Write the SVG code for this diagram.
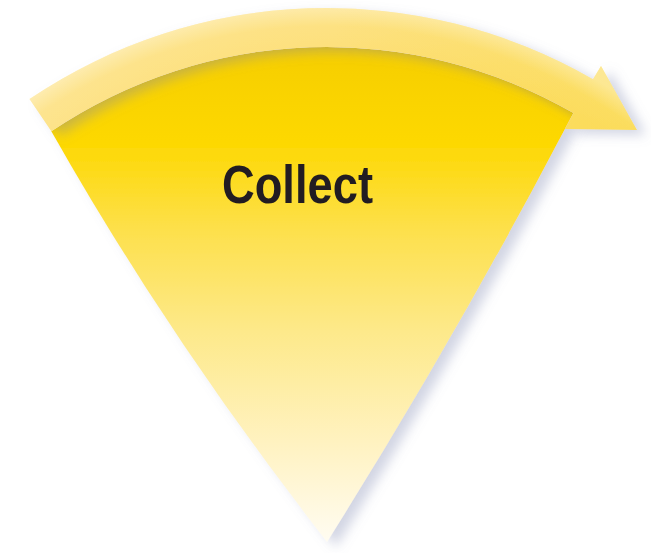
<svg xmlns="http://www.w3.org/2000/svg" width="651" height="553" viewBox="0 0 651 553">
<style>
.label{font-family:"Liberation Sans Narrow","Liberation Sans",Arial,sans-serif;font-weight:bold;font-size:53px;fill:#231f20}
</style>
<defs>
<linearGradient id="wedgeGrad" x1="0" y1="40" x2="0" y2="542" gradientUnits="userSpaceOnUse">
<stop offset="0" stop-color="#f5cd00"/>
<stop offset="0.2" stop-color="#fdd800"/>
<stop offset="0.38" stop-color="#fde04c"/>
<stop offset="0.58" stop-color="#fde98a"/>
<stop offset="0.8" stop-color="#fff2c0"/>
<stop offset="1" stop-color="#fffcf2"/>
</linearGradient>
<linearGradient id="bandGrad" x1="30" y1="0" x2="636" y2="0" gradientUnits="userSpaceOnUse">
<stop offset="0" stop-color="#fde38a"/>
<stop offset="0.5" stop-color="#fde07c"/>
<stop offset="1" stop-color="#fbdb55"/>
</linearGradient>
<radialGradient id="bandShine" cx="327" cy="540" r="547" gradientUnits="userSpaceOnUse">
<stop offset="0.9" stop-color="#ffffff" stop-opacity="0"/>
<stop offset="0.94" stop-color="#ffffff" stop-opacity="0.05"/>
<stop offset="0.975" stop-color="#ffffff" stop-opacity="0.35"/>
</radialGradient>
<filter id="drop" x="-10%" y="-10%" width="130%" height="130%">
<feDropShadow dx="9" dy="5" stdDeviation="6" flood-color="#8088b0" flood-opacity="0.35"/>
</filter>
<filter id="blur" x="-10%" y="-50%" width="120%" height="200%">
<feGaussianBlur stdDeviation="6"/>
</filter>
<clipPath id="wedgeClip">
<path d="M327 542 Q168 338 51.3 131.3 A493 493 0 0 1 573.5 113.1 Q459 332 327 542 Z"/>
</clipPath>
</defs>
<g id="collect" filter="url(#drop)">
<path d="M327 542 Q168 338 51.3 131.3 A493 493 0 0 1 573.5 113.1 Q459 332 327 542 Z" fill="url(#wedgeGrad)"/>
<g clip-path="url(#wedgeClip)">
<path d="M40 124 A493 493 0 0 1 585 108" fill="none" stroke="#c29a00" stroke-opacity="0.6" stroke-width="16" filter="url(#blur)"/>
</g>
<text class="label" x="222" y="203" textLength="151" lengthAdjust="spacingAndGlyphs">Collect</text>
</g>
<g id="connectors" filter="url(#drop)">
<path d="M29.5 99 A532 532 0 0 1 593 79.3 L601 66 L637 130 L565 129 L573.5 113.1 A493 493 0 0 0 51.3 131.3 Z" fill="url(#bandGrad)"/>
<path d="M29.5 99 A532 532 0 0 1 593 79.3 L601 66 L637 130 L565 129 L573.5 113.1 A493 493 0 0 0 51.3 131.3 Z" fill="url(#bandShine)"/>
</g>
</svg>
